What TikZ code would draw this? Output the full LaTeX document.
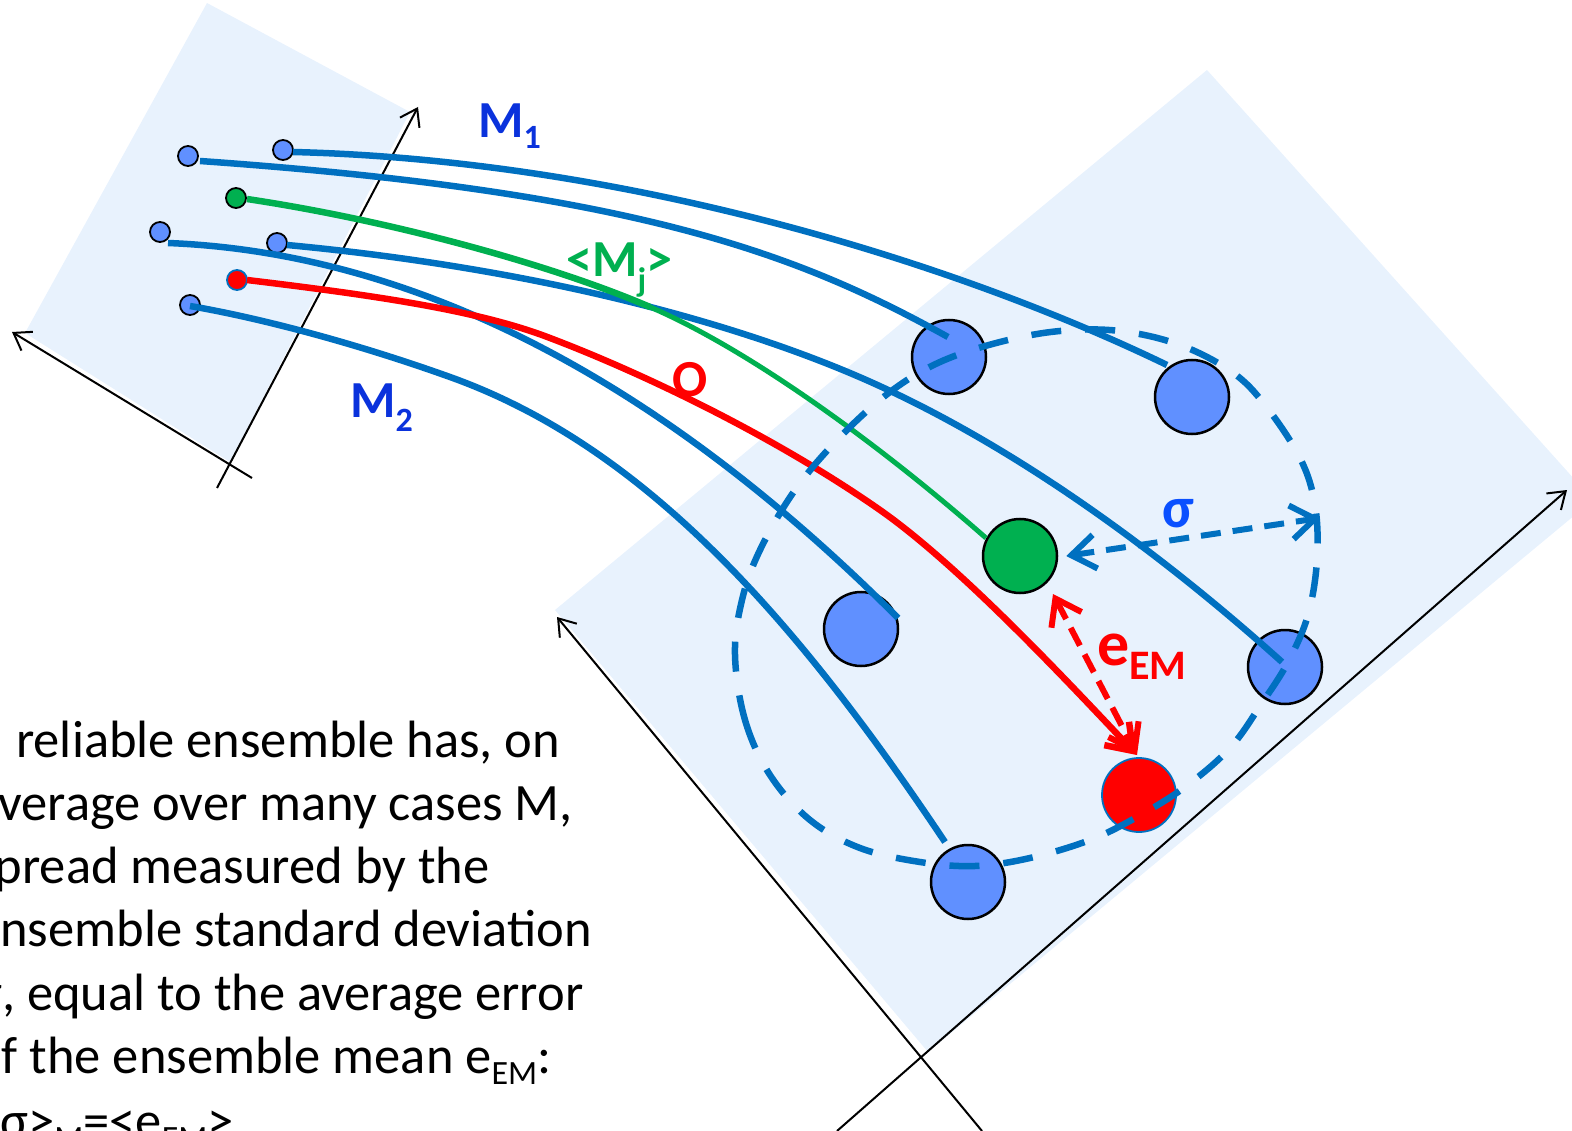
\documentclass[tikz,border=0pt]{standalone}
\usepackage{fontspec}
\setmainfont{Carlito}
\usetikzlibrary{arrows.meta}
\definecolor{lineblue}{RGB}{0,112,192}
\definecolor{dotblue}{RGB}{96,144,255}
\definecolor{ggreen}{RGB}{0,176,80}
\definecolor{planecol}{RGB}{232,242,253}
\definecolor{lblblue}{RGB}{10,50,220}
\definecolor{sigblue}{RGB}{10,80,255}
\newcommand\txtsub[1]{\raisebox{-0.22em}{\fontsize{34}{34}\selectfont #1}}
\begin{document}
\begin{tikzpicture}[x=1pt,y=-1pt,
  trajline/.style={line width=6.5pt, draw=lineblue},
  bigdot/.style={circle, draw=black, line width=2.5pt, fill=dotblue, minimum size=74pt, inner sep=0pt},
  smalldot/.style={circle, draw=black, line width=1.8pt, fill=dotblue, minimum size=20pt, inner sep=0pt},
  axisline/.style={black, line width=2pt, -{Straight Barb[length=16pt,width=22pt]}},
  ensdash/.style={draw=lineblue, line width=6.5pt, dash pattern=on 30pt off 24pt},
  lbl/.style={inner sep=0pt, anchor=base west, font=\fontsize{52}{62}\selectfont\bfseries},
  bodytxt/.style={inner sep=0pt, anchor=base west, font=\fontsize{52.5}{63.4}\selectfont}
]
\useasboundingbox (0,0) rectangle (1572,1131);
\clip (0,0) rectangle (1572,1131);

% planes
\fill[planecol] (207,3) -- (410,112) -- (230,462) -- (25,333) -- cycle;
\fill[planecol] (555,610) -- (1207,70) -- (1593,500) -- (928,1052) -- cycle;

% axes
\draw[axisline] (217,488) -- (418,107);
\draw[axisline] (252,478) -- (12,332);
\draw[axisline] (837,1131) -- (1567,490);
\draw[axisline] (982,1131) -- (557,617);

% small dots (start states)
\node[smalldot] (s1) at (188,156) {};
\node[smalldot] (s2) at (283,150) {};
\node[smalldot, fill=ggreen] (sg) at (236,198) {};
\node[smalldot] (s3) at (160,232) {};
\node[smalldot] (s4) at (277,243) {};
\node[smalldot, fill=red, draw=lineblue] (sr) at (237,280) {};
\node[smalldot] (s5) at (190,305) {};

% big dots (end states)
\node[bigdot] (c1) at (949,357) {};
\node[bigdot] (c2) at (1192,397) {};
\node[bigdot] (c3) at (1285,667) {};
\node[bigdot] (c4) at (861,629) {};
\node[bigdot] (c5) at (968,882) {};
\node[bigdot, fill=ggreen] (cg) at (1020,556) {};
\node[bigdot, fill=red, draw=lineblue, line width=1.8pt] (cr) at (1139,795) {};

% trajectories
\draw[trajline] (293,152) .. controls (620,160) and (950,260) .. (1167,365);
\draw[trajline] (200,161) .. controls (640,192) and (800,255) .. (948,337);
\draw[trajline] (168,243) .. controls (470,255) and (720,440) .. (898,618);
\draw[trajline] (287,245) .. controls (500,265) and (700,310) .. (850,373)
                          .. controls (1000,436) and (1152,545) .. (1282,662);
\draw[trajline] (190,306) .. controls (260,318) and (355,343) .. (450,377)
                          .. controls (640,445) and (790,610) .. (945,842);
\draw[line width=6.5pt, ggreen] (247,199) .. controls (400,222) and (560,268) .. (650,307);
\draw[line width=5pt, ggreen] (650,307) .. controls (750,350) and (880,445) .. (986,538);
\coordinate (eBot) at (1137,755);
\coordinate (eTop) at (1053,594);
\draw[line width=6.5pt, red, -{Straight Barb[length=24pt,width=34pt]}]
  (247,280) .. controls (380,296) and (480,311) .. (550,338)
            .. controls (650,376) and (780,440) .. (880,510)
            .. controls (960,566) and (1067,681) .. (eBot);

% ensemble spread
\draw[ensdash] plot[smooth cycle, tension=0.6] coordinates {(735,655) (745,720) (770,775) (810,820) (860,848) (920,862) (975,866) (1030,858) (1090,840) (1137,817) (1185,787) (1230,748) (1262,703) (1288,662) (1308,615) (1317,560) (1315,505) (1300,458) (1265,405) (1232,372) (1180,345) (1120,331) (1060,331) (1000,342) (940,362) (890,392) (840,437) (795,490) (760,550) (742,600)};

% sigma arrow
\coordinate (sigR) at (1320,518);
\draw[draw=lineblue, line width=6pt, dash pattern=on 20pt off 12pt,
  {Straight Barb[length=24pt,width=34pt]}-{Straight Barb[length=24pt,width=34pt]}]
  ([xshift=8pt]cg.east) -- (sigR);
% error arrow
\draw[draw=red, line width=6pt, dash pattern=on 20pt off 10pt,
  {Straight Barb[length=24pt,width=34pt]}-{Straight Barb[length=24pt,width=34pt]}]
  (eTop) -- (eBot);

% labels
\node[lbl, text=lblblue] (m1) at (478,138) {M\raisebox{-0.2em}{\fontsize{34}{34}\selectfont 1}};
\node[lbl, text=lblblue] (m2) at (350,418) {M\raisebox{-0.26em}{\fontsize{34}{34}\selectfont 2}};
\node[lbl, text=ggreen, font=\fontsize{52}{62}\selectfont\bfseries] (mj) at (566,277) {<M\raisebox{-0.28em}{\fontsize{34}{34}\selectfont j}>};
\node[lbl, text=red] (obs) at (672,397) {O};
\node[lbl, text=sigblue, font=\fontsize{58}{68}\selectfont\bfseries] (sig) at (1162,527) {σ};
\node[lbl, text=red, font=\fontsize{64}{74}\selectfont\bfseries] (eem) at (1097,665) {e\raisebox{-0.23em}{\fontsize{42}{42}\selectfont EM}};

% text
\node[bodytxt] (t1) at (16,757) {reliable ensemble has, on};
\node[bodytxt] (t2) at (-26,820) {average over many cases M,};
\node[bodytxt] (t3) at (-26,883) {spread measured by the};
\node[bodytxt] (t4) at (-26,946) {ensemble standard deviation};
\node[bodytxt] (t5) at (-26,1010) {σ, equal to the average error};
\node[bodytxt] (t6) at (-26,1073) {of the ensemble mean e\txtsub{EM}:};
\node[bodytxt] (t7) at (-26,1138) {<σ>\txtsub{M}=<e\txtsub{EM}>};
\end{tikzpicture}
\end{document}
